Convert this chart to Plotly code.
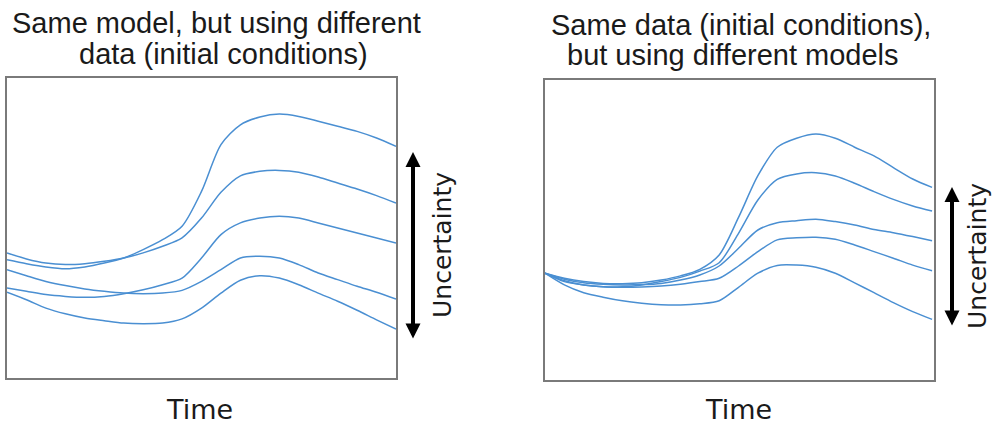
import plotly.graph_objects as go

# Time axis (percent of the plotted period)
time = [0, 5, 10, 15, 20, 25, 30, 35, 40, 45, 50, 55, 60, 65, 70, 75, 80, 85, 90, 95, 100]

# Left panel: same model, different initial conditions
left_a = [39.4, 38.1, 37.0, 36.4, 37.0, 38.3, 40.0, 42.8, 46.1, 50.6, 62.2, 77.8, 84.4, 87.0, 88.0, 87.2, 85.6, 83.9, 82.2, 80.0, 77.2]
left_b = [41.7, 39.7, 38.3, 37.8, 38.1, 38.9, 40.0, 41.7, 43.9, 46.7, 53.3, 61.9, 67.4, 68.9, 69.2, 68.6, 67.0, 65.0, 63.0, 60.8, 58.3]
left_c = [30.0, 28.9, 27.8, 27.2, 26.9, 27.2, 28.1, 29.4, 31.1, 33.3, 40.0, 47.8, 51.7, 53.3, 53.9, 53.3, 51.7, 50.0, 48.3, 46.7, 45.0]
left_d = [36.1, 34.1, 32.2, 30.8, 29.7, 28.9, 28.3, 28.1, 28.3, 29.2, 32.2, 36.1, 40.0, 40.6, 40.0, 37.8, 35.0, 32.8, 30.6, 28.6, 26.3]
left_e = [28.6, 26.1, 23.3, 21.4, 20.0, 19.1, 18.3, 18.1, 18.3, 19.7, 23.3, 28.3, 32.6, 34.1, 33.3, 31.1, 28.3, 25.6, 22.6, 19.4, 16.3]

# Right panel: same initial conditions, different models
right_a = [35.6, 33.9, 32.8, 32.2, 32.1, 32.4, 33.3, 34.7, 36.9, 41.7, 54.2, 68.1, 77.6, 80.6, 82.0, 80.6, 77.6, 74.7, 70.8, 67.0, 64.2]
right_b = [35.6, 33.1, 31.7, 31.1, 31.1, 31.7, 32.8, 34.2, 36.3, 39.1, 48.9, 60.0, 66.9, 68.7, 69.1, 68.0, 65.6, 62.8, 60.2, 58.0, 56.3]
right_c = [35.6, 33.6, 32.4, 31.9, 31.7, 31.8, 32.2, 33.3, 35.0, 38.0, 43.9, 50.0, 52.4, 53.1, 53.6, 52.8, 51.7, 50.2, 49.1, 47.8, 46.4]
right_d = [35.6, 32.8, 31.7, 31.1, 30.9, 31.0, 31.3, 31.9, 32.8, 33.9, 38.0, 42.8, 46.7, 47.4, 47.6, 46.9, 45.0, 42.8, 40.6, 38.3, 36.4]
right_e = [35.6, 31.7, 29.1, 27.6, 26.4, 25.6, 25.1, 25.0, 25.4, 26.4, 30.9, 35.6, 38.2, 38.3, 37.6, 35.6, 32.4, 29.1, 25.8, 22.8, 20.2]

left_series = [left_a, left_b, left_c, left_d, left_e]
right_series = [right_a, right_b, right_c, right_d, right_e]

titles_left = ["Same model, but using different", "data (initial conditions)"]
titles_right = ["Same data (initial conditions),", "but using different models"]
x_label = "Time"
arrow_label = "Uncertainty"

LINE = "#4a8fd2"
TXT = "#1a1a1a"
W, H = 995, 425

fig = go.Figure()
for s in left_series:
    fig.add_trace(go.Scatter(x=time, y=s, mode="lines", xaxis="x", yaxis="y",
                             line=dict(color=LINE, width=1.5, shape="spline", smoothing=0.8),
                             showlegend=False, hoverinfo="skip"))
for s in right_series:
    fig.add_trace(go.Scatter(x=[t * 0.995 for t in time], y=s, mode="lines", xaxis="x2", yaxis="y2",
                             line=dict(color=LINE, width=1.5, shape="spline", smoothing=0.8),
                             showlegend=False, hoverinfo="skip"))

ax_common = dict(range=[0, 100], showgrid=False, zeroline=False, showticklabels=False,
                 ticks="", showline=True, mirror=True, linecolor="#7a7a7a", linewidth=1.6,
                 fixedrange=True)

def px(x):
    return x / W

def py(y):
    return 1 - y / H

fig.update_layout(
    width=W, height=H,
    margin=dict(l=0, r=0, t=0, b=0),
    paper_bgcolor="white", plot_bgcolor="white",
    xaxis=dict(domain=[px(7), px(396)], **ax_common),
    yaxis=dict(domain=[py(378), py(78)], **ax_common),
    xaxis2=dict(domain=[px(545), px(934)], anchor="y2", **ax_common),
    yaxis2=dict(domain=[py(380), py(80)], anchor="x2", **ax_common),
)

ann = []
title_font = dict(family="Liberation Sans, Arial, sans-serif", size=29, color=TXT)
for text, cx, cy in [(titles_left[0], 216, 23), (titles_left[1], 223, 54),
                     (titles_right[0], 741, 25), (titles_right[1], 733, 55)]:
    ann.append(dict(text=text, x=px(cx), y=py(cy), xref="paper", yref="paper",
                    xanchor="center", yanchor="middle", showarrow=False, font=title_font))

label_font = dict(family="DejaVu Sans, Verdana, sans-serif", size=27, color=TXT)
for cx in [199, 738]:
    ann.append(dict(text=x_label, x=px(cx), y=py(409), xref="paper", yref="paper",
                    xanchor="center", yanchor="middle", showarrow=False, font=label_font))

unc_font = dict(family="DejaVu Sans, Verdana, sans-serif", size=25, color=TXT)
for cx, cy in [(443, 245), (978, 256)]:
    ann.append(dict(text=arrow_label, x=px(cx), y=py(cy), xref="paper", yref="paper",
                    xanchor="center", yanchor="middle", textangle=-90, showarrow=False,
                    font=unc_font))

for ax_x, top, bottom in [(413, 152, 340), (952, 187, 327)]:
    ann.append(dict(text="", x=px(ax_x), y=py(top), xref="paper", yref="paper",
                    ax=0, ay=bottom - top, axref="pixel", ayref="pixel",
                    showarrow=True, arrowhead=2, arrowside="end+start",
                    arrowsize=0.75, arrowwidth=4, arrowcolor="black"))

fig.update_layout(annotations=ann)
fig.write_html("out.html", config={"displayModeBar": False},
               post_script="document.body.style.margin='0px';document.body.style.overflow='hidden';")
